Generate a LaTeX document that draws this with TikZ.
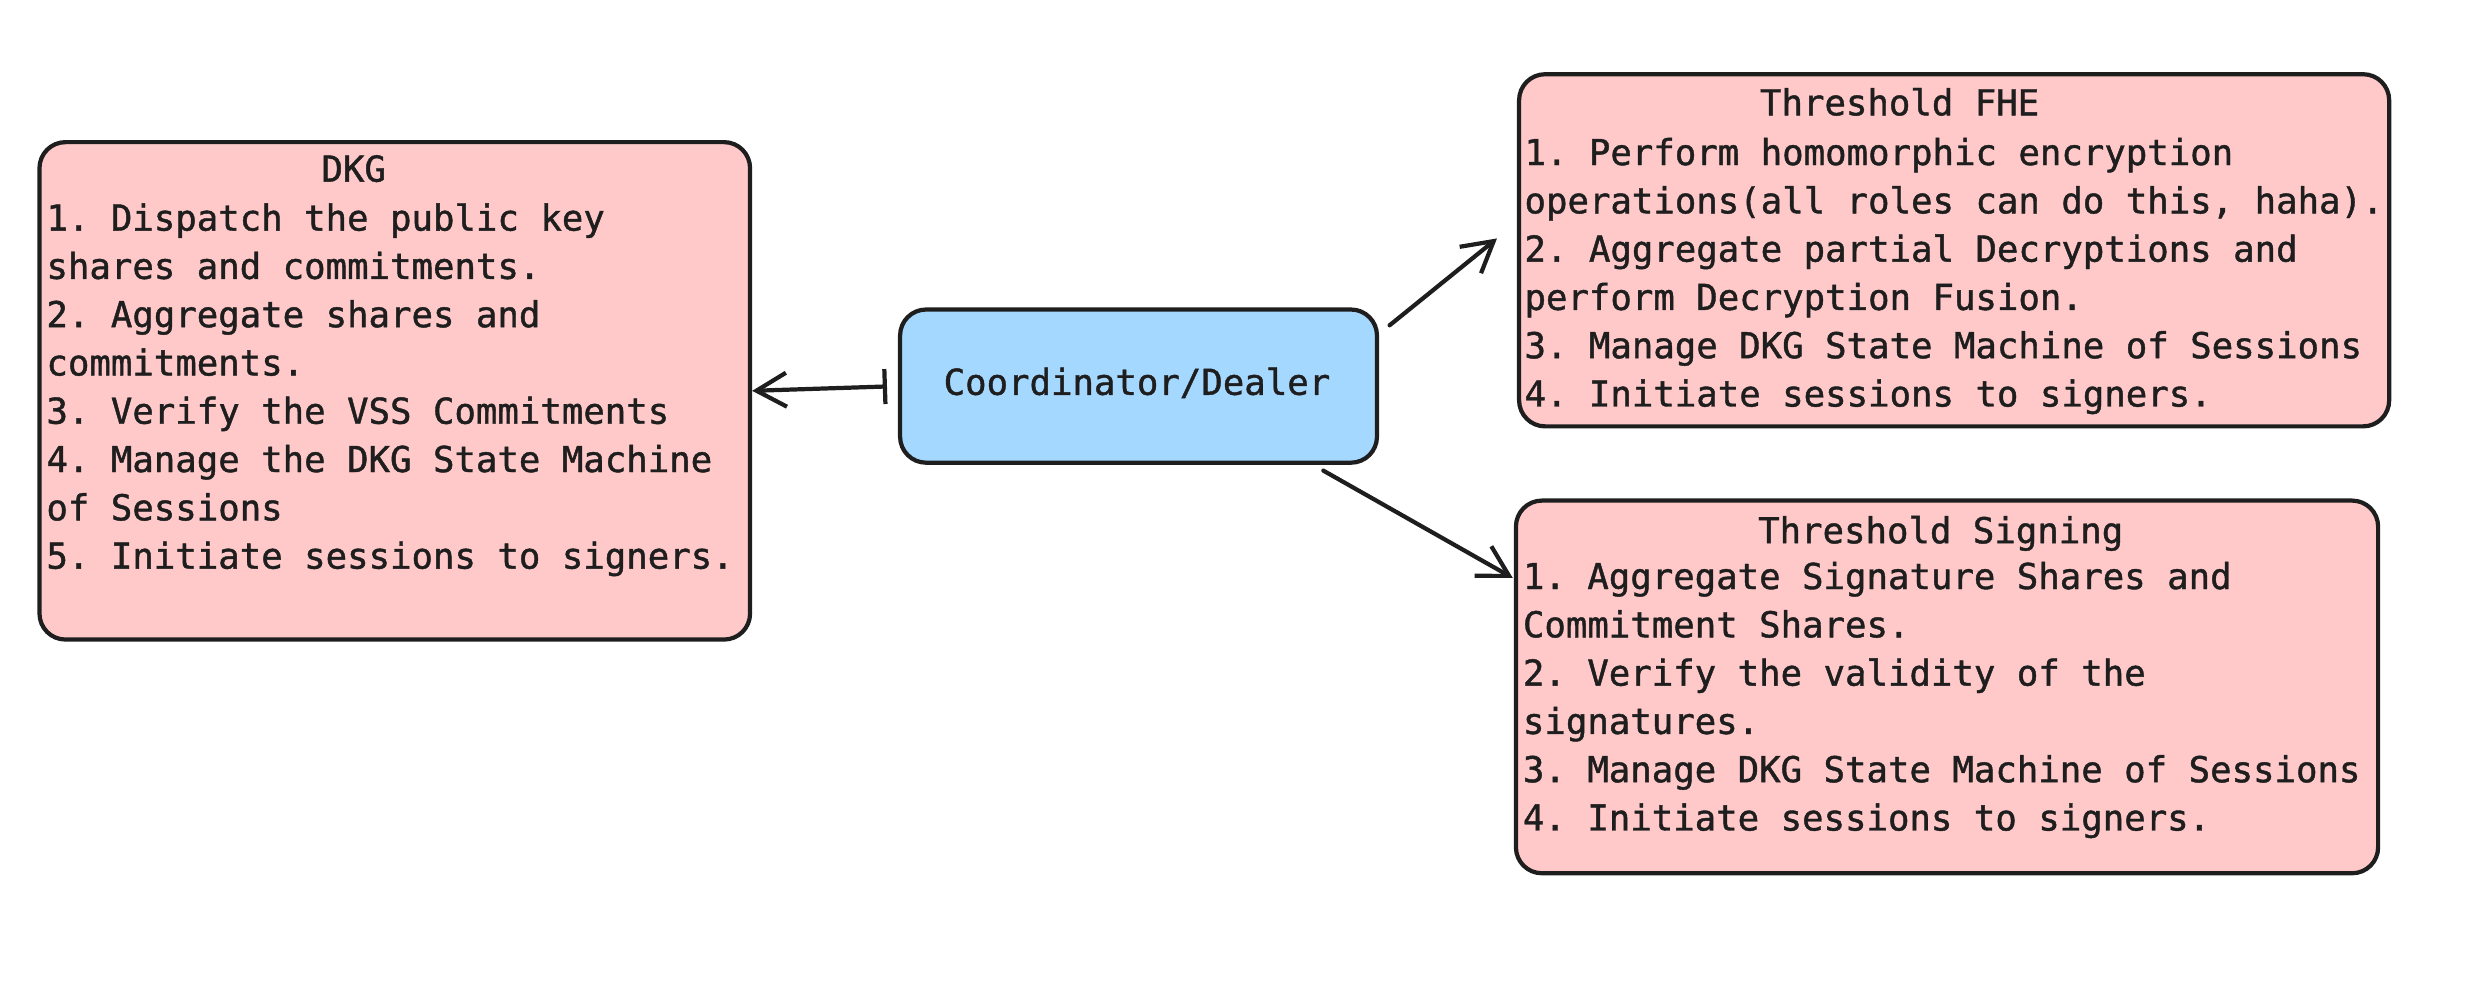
\documentclass[tikz,border=0pt]{standalone}
\usepackage{fontspec}
\usepackage{tikz}
\usetikzlibrary{arrows.meta,fit}
\newfontfamily\sketchfont[FakeBold=1.2]{DejaVu Sans Mono}
\newcommand\sketchtype{\sketchfont\fontsize{10.15}{13.74}\selectfont}
\newcommand\monospaces{\spaceskip=6.11pt\xspaceskip=6.11pt\relax}
\definecolor{inkline}{HTML}{1E1E1E}
\definecolor{rolepink}{HTML}{FFC9C9}
\definecolor{roleblue}{HTML}{A5D8FF}
\tikzset{
  rolebox/.style={draw=inkline,line width=1.2pt,rounded corners=2.6mm,inner sep=0pt},
  listtext/.style={inner sep=0pt,anchor=base west,text width=92mm,align=left,
    text=inkline,font=\sketchtype,execute at begin node=\monospaces},
  heading/.style={inner sep=0pt,anchor=base,text=inkline,font=\sketchtype},
  link/.style={draw=inkline,line width=1.2pt,line cap=round},
  barbhead/.style={-{Straight Barb[length=3mm,width=3.4mm]}}
}
\begin{document}
\frenchspacing
\begin{tikzpicture}[x=0.15791mm,y=-0.15791mm]
\useasboundingbox (0,0) rectangle (1568,627);

\node[rolebox,fill=rolepink,fit={(25,90) (475,405)}] (dkg) {};
\node[rolebox,fill=roleblue,fit={(570,196) (872,293)}] (coord) {};
\node[rolebox,fill=rolepink,fit={(962,47) (1513,270)}] (fhe) {};
\node[rolebox,fill=rolepink,fit={(960,317) (1506,553)}] (sign) {};

\node[heading] (coordtext) at (720,250) {Coordinator/Dealer};

\node[heading] (dkgtitle) at (224,115) {DKG};
\node[listtext] (dkglist) at (29,146) {1. Dispatch the public key\\
shares and commitments.\\
2. Aggregate shares and\\
commitments.\\
3. Verify the VSS Commitments\\
4. Manage the DKG State Machine\\
of Sessions\\
5. Initiate sessions to signers.};

\node[heading] (fhetitle) at (1203,73) {Threshold FHE};
\node[listtext] (fhelist) at (965,104.5) {1. Perform homomorphic encryption\\
operations(all roles can do this, haha).\\
2. Aggregate partial Decryptions and\\
perform Decryption Fusion.\\
3. Manage DKG State Machine of Sessions\\
4. Initiate sessions to signers.};

\node[heading] (signtitle) at (1229,344) {Threshold Signing};
\node[listtext] (signlist) at (964,373) {1. Aggregate Signature Shares and\\
Commitment Shares.\\
2. Verify the validity of the\\
signatures.\\
3. Manage DKG State Machine of Sessions\\
4. Initiate sessions to signers.};

\draw[link,{Bar[width=3.5mm]}-{Straight Barb[length=3mm,width=3.4mm]},shorten <=1.1mm] (coord.west) -- (dkg.east);

\coordinate (fhefrom) at (880,206);
\coordinate (fheto) at (948,151);
\draw[link,barbhead] (fhefrom) -- (fheto);

\coordinate (signfrom) at (838,298);
\coordinate (signto) at (958,366);
\draw[link,barbhead] (signfrom) -- (signto);
\end{tikzpicture}
\end{document}
